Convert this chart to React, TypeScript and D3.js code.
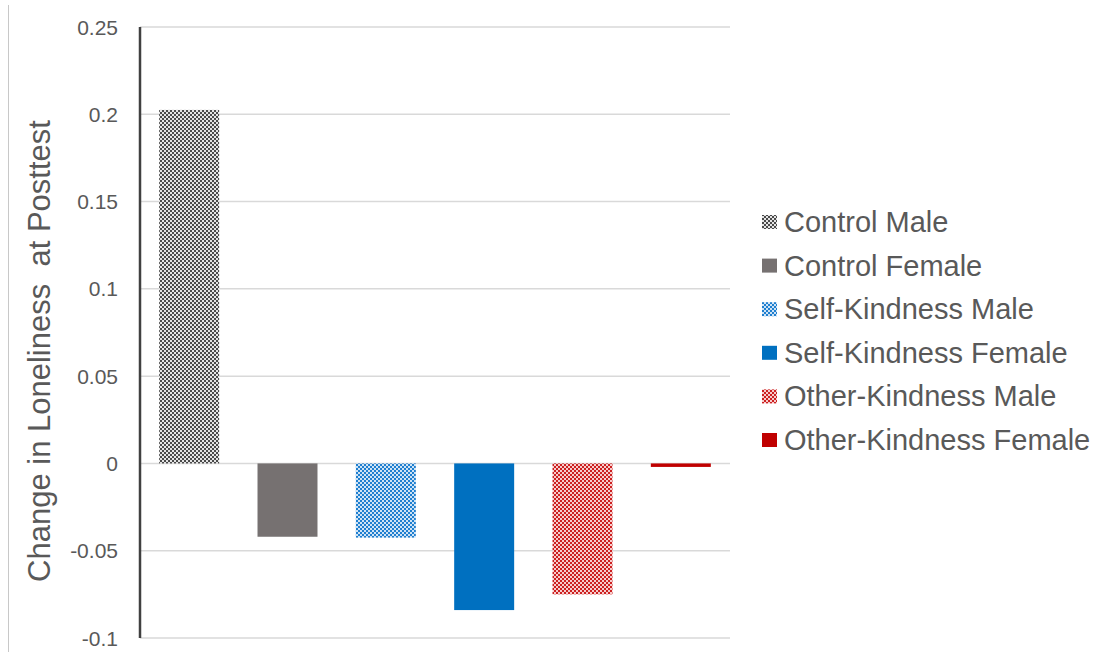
import React from "react";
import * as d3 from "d3";

const categories = [
  "Control Male",
  "Control Female",
  "Self-Kindness Male",
  "Self-Kindness Female",
  "Other-Kindness Male",
  "Other-Kindness Female",
];
const values = [0.2025, -0.042, -0.0425, -0.084, -0.075, -0.002];
const baseColors = ["#4a4a4a", "#767171", "#1f7fcf", "#0070C0", "#cc2020", "#C00000"];
const patternBg = ["#e4e4e4", "", "#cfe3f5", "", "#f6cccc", ""];
const patterned = [true, false, true, false, true, false];
const tickValues = [0.25, 0.2, 0.15, 0.1, 0.05, 0, -0.05, -0.1];
const yTitle = "Change in Loneliness  at Posttest";

const W = 1104;
const H = 652;

export default function App() {
  const y = d3.scaleLinear().domain([-0.1, 0.25]).range([638, 27]);
  const x = d3
    .scaleBand<string>()
    .domain(categories)
    .range([140, 730])
    .paddingInner(0.39)
    .paddingOuter(0.195);
  const legendY = d3.scaleLinear().domain([0, 5]).range([222, 440]);
  const font = "'Liberation Sans', Arial, Helvetica, sans-serif";
  const fillFor = (i: number) => (patterned[i] ? `url(#pat${i})` : baseColors[i]);

  return (
    <svg
      width={W}
      height={H}
      style={{ position: "absolute", left: 0, top: 0, background: "#fff" }}
      fontFamily={font}
    >
      <defs>
        {categories.map((c, i) =>
          patterned[i] ? (
            <pattern key={c} id={`pat${i}`} width={4} height={4} patternUnits="userSpaceOnUse">
              <rect width={4} height={4} fill={patternBg[i]} />
              <rect width={2} height={2} fill={baseColors[i]} />
              <rect x={2} y={2} width={2} height={2} fill={baseColors[i]} />
            </pattern>
          ) : null
        )}
      </defs>
      <rect width={W} height={H} fill="#fff" />
      <line x1={8.5} x2={8.5} y1={5} y2={H} stroke="#c8c8c8" strokeWidth={1} />

      {tickValues.map((t) => (
        <g key={t}>
          <line x1={140} x2={730} y1={y(t)} y2={y(t)} stroke="#d9d9d9" strokeWidth={1.5} />
          <text
            x={118}
            y={y(t)}
            textAnchor="end"
            dominantBaseline="central"
            fontSize={21}
            fill="#595959"
          >
            {String(t)}
          </text>
        </g>
      ))}

      {categories.map((c, i) => {
        const v = values[i];
        const y0 = y(Math.max(0, v));
        const y1 = y(Math.min(0, v));
        return (
          <rect
            key={c}
            x={x(c)}
            y={y0}
            width={x.bandwidth()}
            height={Math.max(1, y1 - y0)}
            fill={fillFor(i)}
          />
        );
      })}

      <line x1={140} x2={140} y1={y(0.25)} y2={y(-0.1)} stroke="#404040" strokeWidth={2.5} />

      <text
        x={50}
        y={351}
        transform="rotate(-90, 50, 351)"
        textAnchor="middle"
        fontSize={31}
        fill="#595959"
        style={{ whiteSpace: "pre" }}
      >
        {yTitle}
      </text>

      {categories.map((c, i) => (
        <g key={c}>
          <rect x={762} y={legendY(i) - 7} width={15} height={14} fill={fillFor(i)} />
          <text x={784} y={legendY(i)} dominantBaseline="central" fontSize={29} fill="#595959">
            {c}
          </text>
        </g>
      ))}
    </svg>
  );
}
